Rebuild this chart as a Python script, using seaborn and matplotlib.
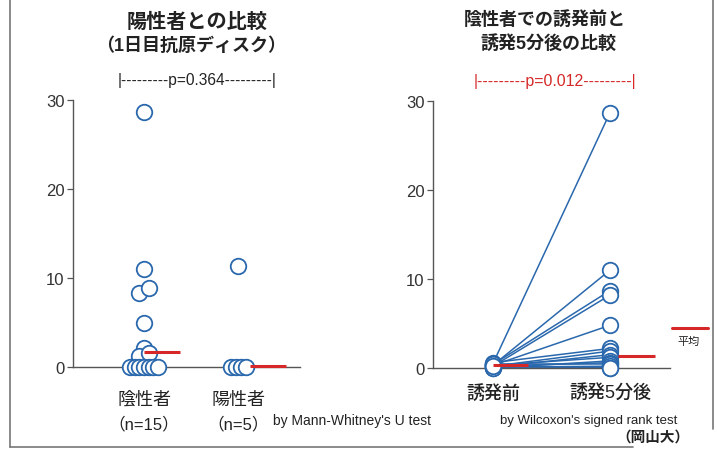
import numpy as np
import pandas as pd
import matplotlib
matplotlib.use("Agg")
import matplotlib.pyplot as plt
import seaborn as sns
from matplotlib.lines import Line2D

# ---------------- data ----------------
left_categories = ["陰性者", "陽性者"]
left_n_labels = ["（n=15）", "（n=5）"]
neg_values = [28.7, 11.0, 8.3, 8.9, 4.9, 2.1, 1.2, 1.6, 0, 0, 0, 0, 0, 0, 0]
pos_values = [11.3, 0, 0, 0, 0]
left_means = [1.65, 0.1]
left_p_text = "|---------p=0.364---------|"
left_test = "by Mann-Whitney's U test"

right_categories = ["誘発前", "誘発5分後"]
pre_values = [0.5, 0.3, 0.4, 0.2, 0.3, 0.6, 0.2, 0.1, 0.3, 0.0, 0.2, 0.4, 0.1, 0.0, 0.2]
post_values = [28.7, 11.0, 8.7, 8.2, 4.8, 2.2, 1.9, 1.5, 1.2, 0.8, 0.6, 0.4, 0.2, 0.0, 0.0]
right_means = [0.35, 1.4]
right_p_text = "|---------p=0.012---------|"
right_test = "by Wilcoxon's signed rank test"
source_text = "（岡山大）"
legend_label = "平均"
y_ticks = [0, 10, 20, 30]

# ---------------- style ----------------
sns.set_style("white")
plt.rcParams['font.family'] = ['Liberation Sans', 'Noto Sans CJK JP', 'DejaVu Sans']
BLUE = "#2a68ad"
RED = "#d62828"
GRAY = "#555555"

W, H = 717, 452
fig = plt.figure(figsize=(W / 100, H / 100), dpi=100)


def fx(px):
    return px / W


def fy(py):
    return 1 - py / H


def spread(values, step_multi=0.05, step_pair=0.115):
    v = np.asarray(values, float)
    keys = np.floor(v).astype(int)
    off = np.zeros(len(v))
    for k in np.unique(keys):
        idx = np.where(keys == k)[0]
        n = len(idx)
        if n > 1:
            step = step_pair if n == 2 else step_multi
            off[idx] = (np.arange(n) - (n - 1) / 2) * step
    return off


def style_axis(ax):
    sns.despine(ax=ax, top=True, right=True)
    for s in ("left", "bottom"):
        ax.spines[s].set_color(GRAY)
        ax.spines[s].set_linewidth(1.0)
    ax.set_ylim(0, 30)
    ax.set_yticks(y_ticks)
    ax.set_xticks([])
    ax.tick_params(axis="y", direction="out", length=4, width=0.9, color=GRAY,
                   labelsize=12, labelcolor="#333333", pad=2, left=True)
    ax.set_xlabel("")
    ax.set_ylabel("")


# ---------------- left panel ----------------
axL = fig.add_axes([fx(73), fy(368), fx(300) - fx(73), fy(101) - fy(368)])
left_df = pd.DataFrame({
    "x": np.concatenate([0 + spread(neg_values), 1 + spread(pos_values, step_multi=0.053)]),
    "y": neg_values + pos_values,
})
sns.scatterplot(data=left_df, x="x", y="y", ax=axL, s=125, color="white",
                edgecolor=BLUE, linewidth=1.3, clip_on=False, zorder=3, legend=False)
for i, m in enumerate(left_means):
    a, b = [(0.0, 0.38), (0.13, 0.51)][i]
    axL.plot([i + a, i + b], [m, m], color=RED, lw=2.2, zorder=4, clip_on=False,
             solid_capstyle="butt")
axL.set_xlim(-0.756, 1.659)
style_axis(axL)
for i, (c, n) in enumerate(zip(left_categories, left_n_labels)):
    axL.text(i, -3.6, c, ha="center", va="center", fontsize=13, color="#222222")
    axL.text(i, -6.4, n, ha="center", va="center", fontsize=12, color="#222222")

# ---------------- right panel ----------------
axR = fig.add_axes([fx(433), fy(369), fx(670) - fx(433), fy(102) - fy(369)])
n_sub = len(pre_values)
right_df = pd.DataFrame({
    "subject": list(range(n_sub)) * 2,
    "t": [0] * n_sub + [1] * n_sub,
    "v": pre_values + post_values,
})
sns.lineplot(data=right_df, x="t", y="v", units="subject", estimator=None,
             color=BLUE, lw=1.1, ax=axR, sort=False, legend=False, zorder=2)
sns.scatterplot(data=right_df, x="t", y="v", ax=axR, s=125, color="white",
                edgecolor=BLUE, linewidth=1.3, clip_on=False, zorder=3, legend=False)
for i, m in enumerate(right_means):
    a, b = [(0.0, 0.3), (0.07, 0.38)][i]
    axR.plot([i + a, i + b], [m, m], color=RED, lw=2.2, zorder=4, clip_on=False,
             solid_capstyle="butt")
axR.set_xlim(-0.512, 1.512)
style_axis(axR)
for i, c in enumerate(right_categories):
    axR.text(i, -2.8, c, ha="center", va="center", fontsize=13, color="#222222",
             fontweight="medium")

# ---------------- titles & annotations ----------------
fig.text(fx(197), fy(22), "陽性者との比較", ha="center", va="center",
         fontsize=14.5, fontweight="bold", color="#222222")
fig.text(fx(191), fy(46), "（1日目抗原ディスク）", ha="center", va="center",
         fontsize=13, fontweight="bold", color="#222222")
fig.text(fx(545), fy(20), "陰性者での誘発前と", ha="center", va="center",
         fontsize=13, fontweight="bold", color="#222222")
fig.text(fx(548), fy(44), "誘発5分後の比較", ha="center", va="center",
         fontsize=13, fontweight="bold", color="#222222")

fig.text(fx(197), fy(80), left_p_text, ha="center", va="center", fontsize=11.2, color="#222222")
fig.text(fx(555), fy(82), right_p_text, ha="center", va="center", fontsize=11.4, color=RED)

fig.text(fx(273), fy(421), left_test, ha="left", va="center", fontsize=10, color="#222222")
fig.text(fx(500), fy(421), right_test, ha="left", va="center", fontsize=9.5, color="#222222")
fig.text(fx(653), fy(438), source_text, ha="center", va="center", fontsize=10.5,
         fontweight="bold", color="#222222")

# legend "平均"
fig.add_artist(Line2D([fx(672), fx(708)], [fy(329), fy(329)], color=RED, lw=2.2,
                      transform=fig.transFigure))
fig.text(fx(689), fy(342), legend_label, ha="center", va="center", fontsize=8, color="#222222")

# frame
for xs, ys in [([10, 10], [0, 448]), ([10, 633], [448, 448]), ([713, 713], [0, 430])]:
    fig.add_artist(Line2D([fx(x) for x in xs], [fy(y) for y in ys], color="#777777",
                          lw=1.2, transform=fig.transFigure))

fig.savefig("out.png", dpi=100)
